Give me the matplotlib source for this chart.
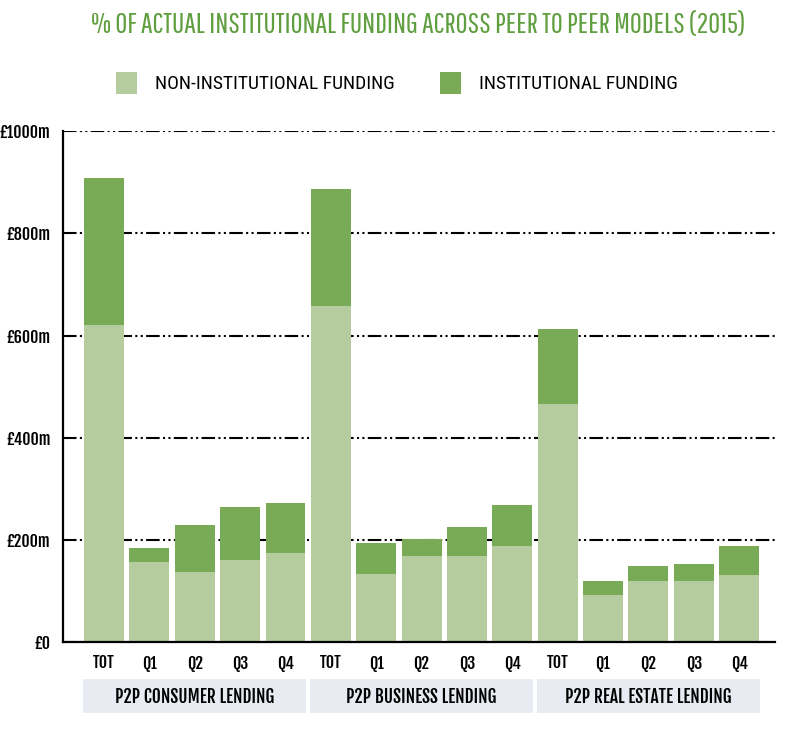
import numpy as np
import matplotlib.pyplot as plt
from matplotlib.patches import Rectangle
import matplotlib.transforms as mtransforms
from matplotlib import font_manager as fm


def pick(cands):
    for c in cands:
        try:
            fm.findfont(fm.FontProperties(family=c), fallback_to_default=False)
            return c
        except ValueError:
            pass
    return 'DejaVu Sans'


title_font = pick(['Pathway Gothic One', 'Oswald', 'Roboto Condensed', 'Archivo Narrow'])
label_font = pick(['Fjalla One', 'Roboto Condensed', 'Oswald', 'Archivo Narrow'])
legend_font = pick(['Ubuntu Condensed', 'Roboto Condensed', 'Archivo Narrow', 'Oswald'])

# data (in £m)
groups = ['P2P CONSUMER LENDING', 'P2P BUSINESS LENDING', 'P2P REAL ESTATE LENDING']
periods = ['TOT', 'Q1', 'Q2', 'Q3', 'Q4']
non_institutional = [620, 157, 137, 161, 174,
                     658, 134, 169, 169, 189,
                     466, 93, 120, 120, 131]
institutional = [289, 28, 92, 103, 99,
                 228, 60, 33, 56, 80,
                 146, 27, 30, 33, 57]
yticks = [0, 200, 400, 600, 800, 1000]
ytick_labels = ['£0', '£200m', '£400m', '£600m', '£800m', '£1000m']

light_green = '#b4cc9e'
dark_green = '#79ab57'
title_green = '#5f9f3f'

fig = plt.figure(figsize=(8.05, 7.3), dpi=100)
ax = fig.add_axes([0.0783, 0.1199, 0.8844, 0.7006])

x = np.arange(len(non_institutional))
ax.bar(x, non_institutional, width=0.88, color=light_green, zorder=2)
ax.bar(x, institutional, width=0.88, bottom=non_institutional,
       color=dark_green, zorder=2)

ax.set_xlim(-0.904, 14.79)
ax.set_ylim(0, 1000)
ax.set_yticks(yticks)
ax.set_yticklabels(ytick_labels, fontsize=11.5, fontweight='bold',
                   family=[label_font, 'DejaVu Sans'])
ax.set_xticks(x)
ax.set_xticklabels(periods * len(groups), fontsize=11.5, fontweight='bold',
                   family=[label_font, 'DejaVu Sans'])
ax.tick_params(axis='both', length=0)
ax.tick_params(axis='y', pad=9)
ax.tick_params(axis='x', pad=8)

ax.set_axisbelow(True)
ax.yaxis.grid(True, color='black', linewidth=1.5,
              linestyle=(0, (6.5, 1.6, 1, 1.6, 1, 1.6)))
for s in ['top', 'right']:
    ax.spines[s].set_visible(False)
for s in ['left', 'bottom']:
    ax.spines[s].set_linewidth(1.6)
    ax.spines[s].set_color('black')
    ax.spines[s].set_zorder(3)

# group label boxes under the ticks
trans = mtransforms.blended_transform_factory(ax.transData, fig.transFigure)
n = len(periods)
for g, name in enumerate(groups):
    x0 = g * n - 0.46
    x1 = g * n + n - 1 + 0.46
    box = Rectangle((x0, 1 - 713 / 730), x1 - x0, 34 / 730, transform=trans,
                    facecolor='#e8ebf2', edgecolor='none', clip_on=False)
    fig.add_artist(box)
    fig.text((x0 + x1) / 2, 1 - 697 / 730, name, transform=trans, fontsize=12.5,
             fontweight='bold', ha='center', va='center',
             family=[label_font, 'DejaVu Sans'])

# title
fig.text(0.52, 1 - 25 / 730, '% OF ACTUAL INSTITUTIONAL FUNDING ACROSS PEER TO PEER MODELS (2015)',
         color=title_green, fontsize=21, ha='center', va='center',
         family=[title_font, 'DejaVu Sans'])

# legend
legend_items = [('NON-INSTITUTIONAL FUNDING', light_green, 116),
                ('INSTITUTIONAL FUNDING', dark_green, 440)]
for label, col, px in legend_items:
    fig.add_artist(Rectangle((px / 805, 1 - 94 / 730), 21 / 805, 22 / 730,
                             transform=fig.transFigure, facecolor=col,
                             edgecolor='none'))
    fig.text((px + 39) / 805, 1 - 84 / 730, label, fontsize=14,
             ha='left', va='center', color='black',
             family=[legend_font, 'DejaVu Sans'])

fig.savefig('out.png', dpi=100, facecolor='white')
